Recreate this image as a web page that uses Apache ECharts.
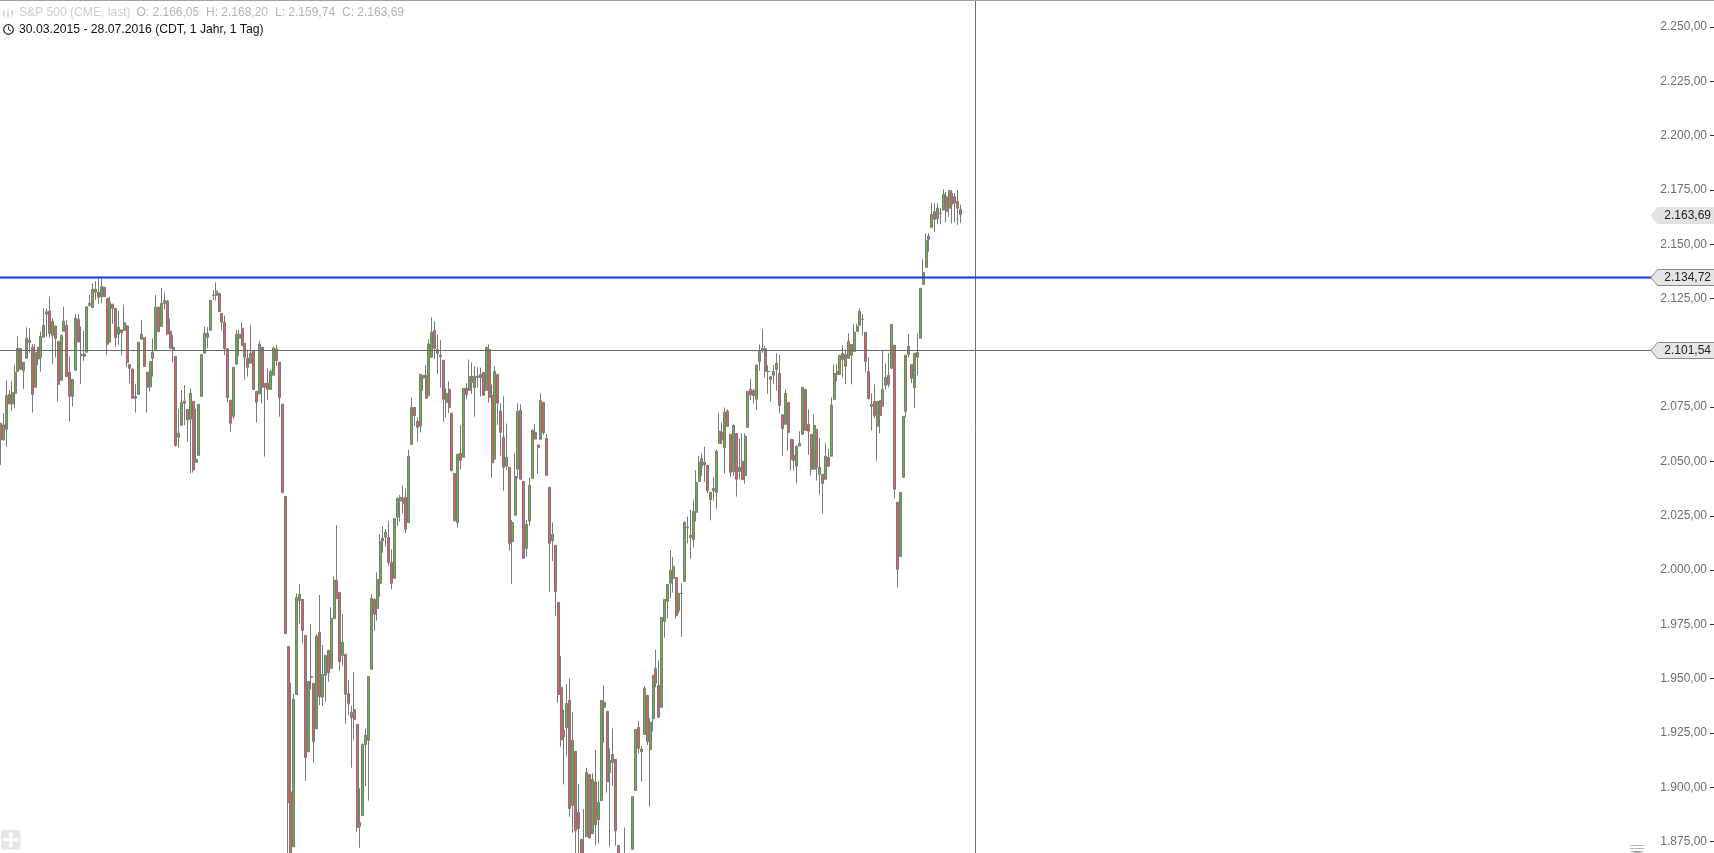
<!DOCTYPE html>
<html><head><meta charset="utf-8">
<style>html,body{margin:0;padding:0;background:#fff}#c{width:1714px;height:853px}</style>
<script src="https://cdn.jsdelivr.net/npm/echarts@6/dist/echarts.min.js"></script>
</head><body><div id="c"></div>
<script>
// Each row: open, high, low, close
const rows2015a = [
[2067.6,2067.6,2048.4,2059.9],[2059.9,2072.2,2059.6,2066.8],[2064.8,2087.2,2056.8,2080.3],[2080.9,2082.9,2076.5,2076.5],[2076.5,2087.1,2073.4,2081.7],
[2081.4,2094.4,2074.5,2091.1],[2091.5,2107.5,2091.4,2102.1],[2102,2102.2,2092.1,2092.4],[2091.8,2095.7,2083.4,2095.7],[2097.5,2111.8,2097.5,2106.7],
[2105.8,2111.3,2100.1,2104.7],[2102.6,2104,2072.5,2080.9],[2084.2,2104.1,2084.2,2100.3],[2102.6,2102.6,2094.4,2097.2],[2098,2109.8,2091.4,2107.5],
[2107.2,2120.5,2107.2,2112.7],[2118.9,2120.4,2107.5,2117.8],[2119.2,2125.8,2107.2,2109],[2108.1,2115.9,2094.9,2114.6],[2112.4,2112.4,2097.8,2106.7],
[2105.3,2105.3,2077.6,2085.5],[2087.4,2108.1,2087.4,2108.1],[2110,2121.2,2110,2114.6],[2112.7,2115.2,2089.1,2089.1],[2091.1,2098.3,2068.3,2080],
[2080,2087.8,2075.3,2087.8],[2092,2117.9,2092,2115.9],[2115.5,2117.9,2105,2105],[2099.4,2112.1,2085.7,2098.7],[2099.4,2110.1,2096.3,2098.4],
[2100.3,2121.3,2100.3,2121.2],[2121.8,2126.7,2121.3,2122.8],[2121,2132,2120.5,2129.3],[2129.3,2133.1,2124.4,2127.9],[2127.9,2135.1,2122.5,2125.6],
[2125.8,2134.4,2122.8,2130.5],[2130.2,2130.5,2125.9,2125.9],[2125.1,2125.1,2099,2104],[2104.9,2125.9,2104.9,2123.3],[2122.4,2122.4,2113.3,2120.5],
[2120.5,2120.5,2102.9,2107],[2108.6,2119.3,2103.7,2111.8],[2110.6,2110.6,2099,2109.3],[2110.3,2122.1,2110.3,2113.9],[2112.4,2112.9,2093.4,2095.5],
[2094.6,2094.6,2086,2092.9],[2092.6,2092.6,2079.1,2079.1],[2079.9,2085.7,2072.5,2079.1],[2080.9,2104.9,2080.9,2104.9],[2106.3,2115.2,2106.3,2108.6],
[2107,2107,2093.7,2093.7],[2091.1,2091.1,2072.5,2084.2],[2084.3,2096.1,2082.2,2096.1],[2097.5,2106.7,2089.1,2100.3],[2101.5,2126.7,2101.5,2121],
[2121,2121.3,2109.8,2109.8],[2112.2,2129.9,2112.2,2122.8],[2122.8,2127.8,2120.1,2124.1],[2123.8,2124.4,2108.6,2108.6],[2110,2115.9,2102.1,2102.1]
];
const rows2015b = [
[2102.6,2108.3,2095.5,2101.4],[2098.4,2098.4,2056.8,2057.4],[2061.1,2074.2,2056.4,2063],[2066.7,2082.9,2066.7,2077.1],[2077.7,2085.2,2066.7,2076.8],
[2074,2074,2059.1,2069.1],[2069.4,2083.7,2044.6,2081.4],[2077.7,2077.7,2044.9,2046.1],[2049.6,2074.2,2049.6,2051],[2052.8,2076.3,2052.8,2076.3],
[2080,2099.2,2080,2099.2],[2099.8,2112.1,2099.8,2109],[2109,2111.8,2102.1,2107.2],[2110.4,2124.2,2110.4,2124.2],[2126.4,2128.7,2124.4,2126.6],
[2126.5,2132.5,2124.1,2128.4],[2127.4,2127.4,2119,2119],[2118.2,2118.2,2110.3,2114.1],[2114.1,2117.2,2099,2102],[2102,2102,2077.1,2079.4],
[2078.2,2078.2,2063.7,2067.6],[2070.8,2093.4,2069.4,2093.4],[2094.8,2110.6,2094.4,2108.6],[2106.7,2110.6,2098.6,2108.6],[2111.3,2114.1,2103.3,2103.3],
[2104.4,2104.4,2087.8,2098],[2097.5,2101.4,2089.1,2093.4],[2095.2,2112.9,2095.2,2099.8],[2101,2101,2083.1,2083.1],[2082.3,2082.3,2067.9,2077.3],
[2081.1,2105.6,2081.1,2104],[2102.6,2102.6,2076.8,2084.2],[2086,2086,2052.2,2084.2],[2086,2092.9,2078.3,2083.2],[2083.2,2092.4,2083.2,2091.5],
[2089.7,2102.9,2089.7,2102.3],[2101.7,2103.7,2094,2096.4],[2095.7,2095.7,2070.6,2079.4],[2076.4,2076.4,2035.6,2035.6],[2033.9,2033.9,1970.7,1970.7],
[1964.8,1964.8,1860,1892.9],[1897.9,1948.1,1860,1862],[1872.6,1942.9,1872.6,1940.4],[1942.7,1989.3,1942.7,1987.4],[1986,1993.4,1975.4,1988.8],
[1986.5,1986.5,1966.2,1972.2],[1969.9,1969.9,1903,1913.7],[1916.3,1948.7,1916.3,1948.7],[1950.6,1975.1,1945.1,1951],[1947.8,1947.8,1911.3,1921],
[1926.9,1970.5,1926.9,1969.5],[1971.3,1988.5,1937.8,1941.7],[1941.4,1965.5,1937.4,1951.9],[1951.5,1960.7,1939.4,1960.7],[1963,1963,1948.6,1952.7],
[1954.7,1982.8,1954.7,1977.7],[1977.7,1997.1,1977.7,1995.2],[1995.2,2020.7,1986.8,1986.8],[1989.7,1989.7,1953.6,1957.8],[1960.7,1979.7,1955.9,1966.7]
];
const rows2015c = [
[1961.2,1961.2,1929.2,1942.8],[1943.2,1949.4,1933.2,1938.6],[1934.5,1937.4,1909,1932],[1935.8,1952.9,1922,1931.2],[1928.9,1928.9,1879.5,1881.5],
[1882,1899.5,1872.1,1883.8],[1887,1920.2,1887,1919.7],[1919.7,1927.1,1900.5,1923.9],[1921.6,1951,1893.8,1951],[1954.3,1988.8,1954.3,1987],
[1986.5,1987,1972.1,1979.6],[1982.3,1998.9,1976.7,1995.7],[1993.9,2016.6,1987.7,2013.2],[2014.6,2020.3,2008,2013.5],[2015.2,2018.9,2010.8,2017.4],
[2015,2022.6,2002,2003.5],[2003.5,2009.5,1991.1,1993.9],[1996.2,2023.8,1996.2,2023.8],[2024.3,2033.5,2020.4,2033],[2031.8,2034.5,2022.3,2033.5],
[2033,2039,2026.1,2030.7],[2033.5,2037.6,2016.9,2018.7],[2021.9,2055.3,2021.9,2052.3],[2057.9,2079.5,2057.9,2074.9],[2074.9,2074.9,2066.3,2071.1],
[2068.5,2070.3,2059.1,2065.7],[2066.2,2090.1,2063.3,2090.1],[2088.4,2089.7,2082.6,2089.7],[2089.7,2094.4,2079.1,2079.1],[2080.3,2106.2,2080.3,2104.1],
[2098,2116.4,2098,2109.5],[2110.4,2114.5,2097.2,2102.1],[2101.6,2108.5,2090.3,2099.8],[2098.9,2105.9,2084,2098.3],[2096.6,2096.6,2068.3,2078.6],
[2077.2,2083.7,2070.2,2081.4],[2083.2,2086.9,2072.2,2074.9],[2072.2,2072.2,2045.7,2045.7],[2044.5,2044.5,2022.3,2022.7],[2021.8,2053.3,2019.5,2053.3],
[2053.7,2066.8,2046.4,2050.5],[2051.9,2083.7,2051.9,2083.7],[2083.7,2086,2078.9,2080.8],[2082.7,2097,2082.7,2089.2],[2089.2,2095.6,2081.1,2086.4],
[2084.1,2093.8,2070.6,2089.2],[2088.7,2093.3,2084.1,2089.2],[2088.7,2093.2,2079.8,2090.1],[2091,2091,2080.4,2080.4],[2082.7,2103,2082.7,2102.5],
[2101.6,2103.9,2077.1,2079.5],[2080.4,2085.4,2042.5,2049.4],[2051,2093.8,2051,2091.5],[2090.1,2090.1,2066.8,2076.8],[2073.1,2076.8,2052.8,2063.4],
[2061.1,2080,2036.5,2047.3],[2047.8,2067.5,2046.1,2051.9],[2047.3,2047.3,2008.9,2012.3],[2013.1,2023,1993.6,2021.9],[2025.2,2053.7,2025.2,2043.1]
];
const rows2016a = [
[2046.4,2076.8,2042.2,2073.1],[2073.5,2076.3,2041.8,2041.8],[2040.8,2040.8,2005.4,2005.4],[2010,2023,2006.1,2021],[2022.6,2042.7,2020.4,2039],
[2042.2,2064.8,2042.2,2064.3],[2063.4,2067.1,2060.3,2060.3],[2057.6,2057.6,2044.2,2056.3],[2060.2,2081.4,2060.2,2078.1],[2077.2,2077.2,2062.2,2063.2],
[2060.6,2062.6,2043.6,2043.6],[2038.1,2038.1,1990,2012.3],[2013.5,2021.9,2004.1,2016.4],[2011.4,2011.4,1979,1990],[1985.1,1985.1,1938.9,1942.7],
[1946,1960.4,1918.6,1921.9],[1926.3,1935.5,1901.2,1923.2],[1927.4,1947.5,1914.5,1938.6],[1940,1950.1,1886.4,1890.2],[1891.6,1934.6,1879,1921.6],
[1916.5,1916.5,1865,1880],[1888.4,1901.5,1865,1881],[1876,1876,1860,1862],[1868,1889.9,1858,1862],[1877.2,1909,1877.2,1906.8],
[1905.9,1906,1876.3,1876.7],[1878.6,1906.4,1878.6,1903.6],[1902.4,1917.1,1873.1,1882.7],[1885,1902.8,1874,1893],[1893.8,1940,1893.8,1940],
[1936.8,1947,1920.5,1939.1],[1934.9,1934.9,1897.5,1902.5],[1906.7,1917.9,1872.6,1912.4],[1911.4,1927.1,1900.7,1915.1],[1912.8,1912.8,1873.1,1880],
[1873.2,1873.2,1860,1866],[1866,1868,1858,1862],[1868,1881.5,1858,1863],[1862,1868,1858,1866],[1864,1869,1860,1868],
[1871.4,1895.9,1871.4,1895.6],[1898.5,1926.6,1898.5,1926.6],[1927.5,1930.5,1915.6,1917.9],[1916.4,1919,1902.5,1917.6],[1924.3,1946.6,1924.3,1945.5],
[1942.3,1942.3,1919.4,1921],[1917.4,1931.7,1891,1929.9],[1931.5,1951.5,1925.6,1951.5],[1954.7,1963.2,1946,1947.8],[1946.9,1958.3,1932.2,1932.2],
[1936.8,1978.2,1936.8,1978.2],[1976.4,1986.5,1968.8,1986.5],[1985.6,1993.4,1977.7,1993.4],[1993.9,2009.2,1987,1999.9],[1996.2,2006,1989.6,2001.7],
[1996.6,1996.6,1977.6,1979.1],[1981.4,1989.3,1980,1989.3],[1989.2,1993.9,1969.3,1989.3],[1994.8,2022.6,1994.8,2021.9],[2019.5,2024.6,2012.3,2019.7]
];
const rows2016b = [
[2015,2027.9,2005.2,2016],[2014.1,2032.2,2010.4,2027],[2026.6,2046,2022.3,2040.4],[2040.8,2052.5,2040.8,2049.6],[2047.7,2053.7,2043.4,2051.3],
[2049.6,2056.8,2040.7,2048.5],[2048.2,2048.2,2035.3,2036.5],[2032.5,2035.8,2022.9,2035.8],[2037.6,2042.8,2031.9,2036.5],[2035.8,2055.6,2028.2,2054.7],
[2058.2,2072.3,2058.2,2063.9],[2063.4,2067.9,2057.9,2059.9],[2056.3,2074.9,2044.5,2072.6],[2073.1,2074,2066,2066.2],[2062.5,2062.5,2042.7,2045],
[2045.4,2067.1,2043.3,2066.6],[2062.9,2062.9,2033.8,2041.8],[2045.4,2060.6,2041.8,2047.3],[2050.1,2063,2041.5,2041.6],[2043.5,2063,2039.8,2061.6],
[2065.7,2082.3,2065.7,2082.3],[2083.2,2088,2078.3,2080.6],[2082.6,2083.4,2076.8,2080.3],[2078.6,2094.7,2073.7,2094.3],[2096,2103.9,2091.8,2100.7],
[2101,2111,2100,2101.9],[2101.9,2103.3,2088.7,2091.5],[2091.5,2094.3,2081.1,2091.4],[2089,2089,2077.5,2087.8],[2089.7,2094.3,2085.5,2091.5],
[2092.4,2099.8,2082.6,2095.2],[2090.6,2099.3,2072.2,2075.8],[2071.5,2071.5,2052.7,2065.2],[2067.1,2083.2,2067.1,2081.4],[2077.2,2077.2,2055,2063.4],
[2060.2,2060.2,2045.8,2051],[2052.8,2060.2,2045.8,2050.5],[2047.8,2057.4,2039.8,2057],[2057.1,2063.9,2057,2058.3],[2062.5,2084.4,2062.5,2084.1],
[2083.2,2083.2,2064.3,2064.3],[2067.1,2074,2053.1,2063.9],[2062.5,2062.5,2043.5,2046.4],[2046.4,2071.7,2046.4,2066.6],[2064.8,2064.8,2041.2,2047.3],
[2044.1,2060.6,2034.6,2047.3],[2044.1,2044.1,2026,2039.9],[2041.8,2058.4,2041.8,2052.4],[2051.9,2055.7,2047.8,2047.8],[2052.4,2079.5,2052.4,2075.9],
[2078.6,2094.7,2078.6,2090.6],[2091.5,2094.7,2087,2090.1],[2090.1,2099,2090,2098.9],[2099.8,2103.5,2088.7,2097],[2093.8,2101.6,2085.5,2099.3],
[2097.5,2109,2097.5,2105.3],[2103.9,2103.9,2085.5,2098.9],[2100.7,2113.3,2100.7,2109.5],[2109.9,2113.3,2109.9,2112.2],[2112.7,2120.5,2112.4,2119.1]
];
const rows2016c = [
[2115.4,2117.8,2108.1,2115.5],[2109.5,2109.5,2091.3,2096.1],[2091.5,2098,2078.6,2078.9],[2076.3,2081.4,2064.2,2075.4],[2077.7,2085.5,2069.9,2071.2],
[2066.2,2077.7,2050.4,2077.7],[2078.1,2078.1,2063,2071.2],[2075.4,2101,2075.4,2083.2],[2085,2095.2,2083.2,2088.7],[2089.7,2099.8,2084.1,2085.5],
[2092.9,2113.1,2092.9,2113.1],[2103.5,2103.5,2033,2037.2],[2031.2,2031.2,1992,2000.3],[2006.3,2035.8,2006.3,2035.8],[2042.7,2070.8,2042.7,2070.8],
[2073.1,2098.9,2070.3,2098.9],[2099.3,2108.7,2097.9,2103],[2094.7,2094.7,2086,2088.3],[2084.1,2099.8,2074.5,2099.8],[2100.2,2109,2089.7,2098],
[2106.7,2129.7,2106.7,2129.7],[2131.6,2143.2,2131.6,2137.1],[2139.4,2155,2139.4,2151.8],[2153.7,2155,2146.6,2152.3],[2157.8,2168.9,2157.8,2163.8],
[2165,2168.9,2155.8,2161.5],[2161.8,2168.9,2159.2,2166.6],[2164.2,2166.6,2159.2,2164.3],[2165.8,2175.3,2165.8,2173],[2171.9,2174.2,2160.1,2165.2],
[2166.6,2174.8,2162.7,2174.8],[2173.5,2174.8,2159.6,2168.4],[2171.9,2173.5,2160.1,2168.9],[2169.8,2175,2158.9,2166.6],[2166.05,2168.2,2159.74,2163.69]
];
const lastClose = 2163.69;
const levelBlue = 2134.72;
const levelGray = 2101.54;
const categoryCount = 597;
const crosshairIndex = 339;

const rows = [].concat(rows2015a, rows2015b, rows2015c, rows2016a, rows2016b, rows2016c);
const categories = Array.from({length: categoryCount}, (_, i) => String(i));
const fmt = v => {
  const s = Number(v).toFixed(2).split('.');
  return s[0].replace(/\B(?=(\d{3})+$)/g, '.') + ',' + s[1];
};
const FONT = '"Liberation Sans", Arial, sans-serif';

const chart = echarts.init(document.getElementById('c'), null, {renderer: 'canvas'});

function lineItem(api, params) {
  const kind = api.value(2);
  const W = api.getWidth(), H = api.getHeight();
  const pt = api.coord([api.value(0), api.value(1)]);
  if (kind === 'v') {
    const x = Math.round(pt[0]) + 0.5;
    return {type: 'line', shape: {x1: x, y1: 0, x2: x, y2: H}, style: {stroke: '#707070', lineWidth: 1}};
  }
  const isBlue = kind === 'blue', isLast = kind === 'last';
  const y = isBlue ? Math.floor(pt[1]) + 0.5 : Math.floor(pt[1]) + 1.5;
  const children = [];
  if (!isLast) {
    children.push({type: 'line', shape: {x1: 0, y1: y, x2: 1652, y2: y},
      style: {stroke: isBlue ? '#1238ee' : '#6a6a6a', lineWidth: isBlue ? 2 : 1}});
  }
  children.push({type: 'polygon', shape: {points: [[1651, y], [1657.5, y - 8], [W + 2, y - 8], [W + 2, y + 8], [1657.5, y + 8]]},
    style: {fill: isLast ? '#e2e2e2' : '#e6e6e6', stroke: isLast ? '#e2e2e2' : '#8a8a8a', lineWidth: 1}});
  children.push({type: 'text', style: {text: fmt(api.value(1)), x: 1711, y: y, align: 'right', verticalAlign: 'middle',
    font: '12px ' + FONT, fill: '#222'}});
  return {type: 'group', children};
}

chart.setOption({
  animation: false,
  backgroundColor: '#fff',
  grid: {left: -0.77, width: 2.874 * categoryCount, top: -27.17, height: 922.97, outerBoundsMode: 'none', containLabel: false},
  xAxis: {type: 'category', data: categories, show: false, boundaryGap: true},
  yAxis: {
    type: 'value', position: 'right', min: 1850, max: 2275, interval: 25, scale: true,
    splitLine: {show: false}, axisLine: {show: false},
    axisTick: {show: true, inside: true, length: 5, lineStyle: {color: '#333'}},
    axisLabel: {inside: true, margin: 8, color: '#6e6e6e', fontFamily: FONT, fontSize: 12, formatter: fmt}
  },
  series: [
    {type: 'candlestick', barWidth: 2.5, z: 2, silent: true,
     itemStyle: {color: '#66b82c', color0: '#f0585a', borderColor: '#7a7a7a', borderColor0: '#7a7a7a', borderColorDoji: '#7a7a7a', borderWidth: 1},
     data: rows.map(r => [r[0], r[3], r[2], r[1]])},
    {type: 'custom', z: 5, silent: true, clip: false, encode: {x: 0, y: 1}, renderItem: (p, api) => lineItem(api, p),
     data: [[String(crosshairIndex), 2000, 'v'], ['0', levelGray, 'gray'], ['0', levelBlue, 'blue'], ['0', lastClose, 'last']]}
  ],
  graphic: [
    {type: 'line', z: 20, shape: {x1: 0, y1: 0.5, x2: 1714, y2: 0.5}, style: {stroke: '#a0a0a0', lineWidth: 1}},
    {type: 'group', z: 20, x: 3, y: 8, children: [
      {type: 'line', shape: {x1: 1, y1: 2, x2: 1, y2: 9}, style: {stroke: '#d0d0d0', lineWidth: 1}},
      {type: 'rect', shape: {x: 0, y: 4, width: 2, height: 3}, style: {fill: '#d8d8d8'}},
      {type: 'line', shape: {x1: 5, y1: 1, x2: 5, y2: 10}, style: {stroke: '#d0d0d0', lineWidth: 1}},
      {type: 'rect', shape: {x: 4, y: 5, width: 2, height: 3}, style: {fill: '#d8d8d8'}},
      {type: 'line', shape: {x1: 9, y1: 2, x2: 9, y2: 9}, style: {stroke: '#d0d0d0', lineWidth: 1}},
      {type: 'rect', shape: {x: 8, y: 3, width: 2, height: 3}, style: {fill: '#d8d8d8'}}
    ]},
    {type: 'text', z: 20, x: 19, y: 13, style: {text: 'S&P 500 (CME, last)', font: '12.1px ' + FONT, fill: '#cdcdcd', verticalAlign: 'middle'}},
    {type: 'text', z: 20, x: 136.5, y: 13, style: {text: 'O: 2.166,05', font: '12px ' + FONT, fill: '#b4b4b4', verticalAlign: 'middle'}},
    {type: 'text', z: 20, x: 206, y: 13, style: {text: 'H: 2.168,20', font: '12px ' + FONT, fill: '#b4b4b4', verticalAlign: 'middle'}},
    {type: 'text', z: 20, x: 275, y: 13, style: {text: 'L: 2.159,74', font: '12px ' + FONT, fill: '#b4b4b4', verticalAlign: 'middle'}},
    {type: 'text', z: 20, x: 342, y: 13, style: {text: 'C: 2.163,69', font: '12px ' + FONT, fill: '#b4b4b4', verticalAlign: 'middle'}},
    {type: 'text', z: 20, x: 19, y: 30, style: {text: '30.03.2015 - 28.07.2016 (CDT, 1 Jahr, 1 Tag)', font: '12.2px ' + FONT, fill: '#111', verticalAlign: 'middle'}},
    {type: 'group', z: 20, x: 8.5, y: 29.5, children: [
      {type: 'circle', shape: {cx: 0, cy: 0, r: 4.8}, style: {fill: 'none', stroke: '#222', lineWidth: 1.2}},
      {type: 'polyline', shape: {points: [[0, -3], [0, 0], [2.5, 1.5]]}, style: {fill: 'none', stroke: '#222', lineWidth: 1}}
    ]},
    {type: 'group', z: 20, x: 1, y: 830, children: [
      {type: 'rect', shape: {x: 0, y: 0, width: 19.5, height: 19.5, r: 3}, style: {fill: '#e6e6e6'}},
      {type: 'rect', shape: {x: 8.5, y: 3, width: 2.5, height: 13.5}, style: {fill: '#fff'}},
      {type: 'rect', shape: {x: 3, y: 8.5, width: 13.5, height: 2.5}, style: {fill: '#fff'}},
      {type: 'polygon', shape: {points: [[9.75, 1.5], [7, 5], [12.5, 5]]}, style: {fill: '#fff'}},
      {type: 'polygon', shape: {points: [[9.75, 18], [7, 14.5], [12.5, 14.5]]}, style: {fill: '#fff'}},
      {type: 'polygon', shape: {points: [[1.5, 9.75], [5, 7], [5, 12.5]]}, style: {fill: '#fff'}},
      {type: 'polygon', shape: {points: [[18, 9.75], [14.5, 7], [14.5, 12.5]]}, style: {fill: '#fff'}}
    ]},
    {type: 'group', z: 20, x: 1630, y: 845, children: [
      {type: 'rect', shape: {x: 0, y: 0, width: 14, height: 1}, style: {fill: '#b8b8b8'}},
      {type: 'rect', shape: {x: 0, y: 3, width: 14, height: 1}, style: {fill: '#b8b8b8'}},
      {type: 'polygon', shape: {points: [[0, 6], [14, 6], [7, 9]]}, style: {fill: '#a8a8a8'}}
    ]}
  ]
});
</script></body></html>
